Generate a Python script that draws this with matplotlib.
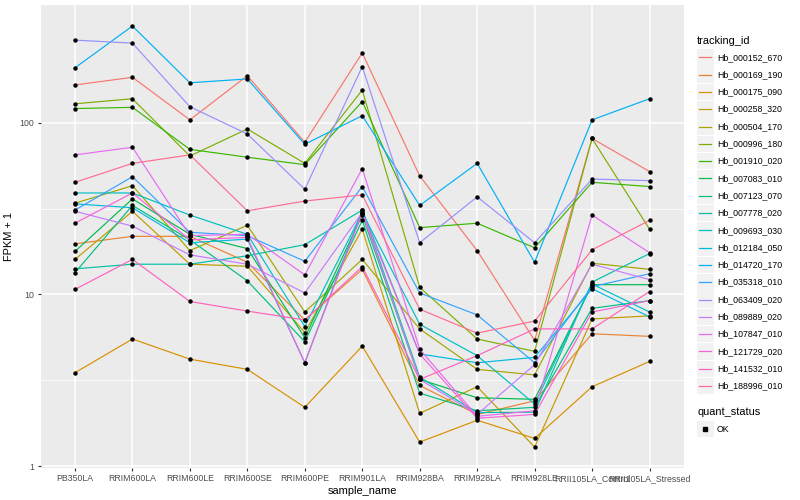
import matplotlib
matplotlib.use('Agg')
import matplotlib.pyplot as plt
from matplotlib.lines import Line2D
from matplotlib.patches import Rectangle
from matplotlib.ticker import FixedLocator, NullFormatter
import numpy as np

plt.rcParams['font.family'] = ['Liberation Sans', 'DejaVu Sans']

samples = ['PB350LA', 'RRIM600LA', 'RRIM600LE', 'RRIM600SE', 'RRIM600PE',
           'RRIM901LA', 'RRIM928BA', 'RRIM928LA', 'RRIM928LE',
           'RRII105LA_Control', 'RRII105LA_Stressed']

tracking_ids = ['Hb_000152_670', 'Hb_000169_190', 'Hb_000175_090', 'Hb_000258_320',
                'Hb_000504_170', 'Hb_000996_180', 'Hb_001910_020', 'Hb_007083_010',
                'Hb_007123_070', 'Hb_007778_020', 'Hb_009693_030', 'Hb_012184_050',
                'Hb_014720_170', 'Hb_035318_010', 'Hb_063409_020', 'Hb_089889_020',
                'Hb_107847_010', 'Hb_121729_020', 'Hb_141532_010', 'Hb_188996_010']

# FPKM + 1 per sample
hb_000152_670 = [166, 184, 104, 188, 77, 255, 49, 18, 5.4, 81, 52]
hb_000169_190 = [19.7, 21.8, 21.8, 15.4, 7.1, 14, 2.95, 2.0, 2.4, 5.9, 5.7]
hb_000175_090 = [3.5, 5.5, 4.2, 3.66, 2.2, 5.0, 1.38, 1.85, 1.45, 2.9, 4.07]
hb_000258_320 = [16, 30.5, 15, 14.6, 6.0, 24, 2.03, 2.9, 1.29, 7.2, 7.5]
hb_000504_170 = [34, 43, 18, 25.3, 7.9, 16, 6.3, 3.66, 3.4, 15.2, 14]
hb_000996_180 = [129, 138, 64, 92, 58, 155, 11, 5.5, 4.66, 81, 24]
hb_001910_020 = [121, 123, 70, 63, 57, 133, 24.5, 26, 18.7, 45, 42.5]
hb_007083_010 = [17.8, 36, 22.4, 18.5, 5.6, 29, 3.2, 2.5, 2.45, 11.4, 11.4]
hb_007123_070 = [13.4, 33, 20.8, 12, 5.3, 27, 2.66, 2.1, 2.2, 8.3, 9.2]
hb_007778_020 = [14.1, 15, 15, 16.8, 19.5, 31, 3.3, 2.05, 2.06, 11.8, 17.3]
hb_009693_030 = [39, 39, 29, 22.4, 6.5, 30, 6.7, 4.4, 2.3, 11.5, 7.9]
hb_012184_050 = [33.7, 32, 20, 21, 4.0, 31, 4.5, 4.0, 4.3, 10.8, 7.4]
hb_014720_170 = [209, 366, 171, 180, 75, 110, 33, 58, 15.4, 104, 138]
hb_035318_010 = [31, 48.5, 23, 22, 15.6, 42.5, 10.2, 7.6, 4.0, 11.1, 13.2]
hb_063409_020 = [303, 291, 124, 86, 41, 212, 20, 37, 20, 47, 46]
hb_089889_020 = [30.5, 25, 17, 15, 10.2, 30, 3.2, 2.0, 3.9, 15, 12.2]
hb_107847_010 = [65, 72, 22, 22.4, 13, 54, 4.8, 1.95, 2.1, 29, 17.5]
hb_121729_020 = [26, 39, 20.8, 21.5, 4.0, 30, 4.5, 1.9, 2.0, 7.9, 9.2]
hb_141532_010 = [10.7, 16, 9.1, 8, 7.1, 14.5, 3.2, 4.4, 6.3, 6.3, 10.4]
hb_188996_010 = [45, 58, 65, 30.7, 35, 38, 8.2, 5.95, 7.0, 18.2, 27]

series = [hb_000152_670, hb_000169_190, hb_000175_090, hb_000258_320,
          hb_000504_170, hb_000996_180, hb_001910_020, hb_007083_010,
          hb_007123_070, hb_007778_020, hb_009693_030, hb_012184_050,
          hb_014720_170, hb_035318_010, hb_063409_020, hb_089889_020,
          hb_107847_010, hb_121729_020, hb_141532_010, hb_188996_010]

colors = ['#F8766D', '#EA8331', '#D89000', '#C09B00', '#A3A500', '#7CAE00',
          '#39B600', '#00BB4E', '#00BF7D', '#00C1A3', '#00BFC4', '#00BAE0',
          '#00B0F6', '#35A2FF', '#9590FF', '#C77CFF', '#E76BF3', '#FA62DB',
          '#FF62BC', '#FF6C91']

W, H = 800, 500
fig = plt.figure(figsize=(8, 5), dpi=100)
left, right, top, bottom = 40.5, 684, 5, 468
ax = fig.add_axes([left / W, 1 - bottom / H, (right - left) / W, (bottom - top) / H])
ax.set_facecolor('#EBEBEB')

x = np.arange(len(samples))
for vals, c in zip(series, colors):
    ax.plot(x, vals, color=c, lw=0.85, zorder=2)
for vals in series:
    ax.plot(x, vals, ls='none', marker='o', ms=2.2, color='black', zorder=3)

ax.set_yscale('log')
ax.set_ylim(10 ** -0.011, 10 ** 2.686)
ax.set_xlim(-0.6, len(samples) - 0.4)
ax.set_yticks([1, 10, 100])
ax.set_yticklabels(['1', '10', '100'])
ax.yaxis.set_minor_locator(FixedLocator([10 ** 0.5, 10 ** 1.5]))
ax.yaxis.set_minor_formatter(NullFormatter())
ax.set_xticks(x)
ax.set_xticklabels(samples)

ax.grid(which='major', color='white', lw=1.1)
ax.grid(which='minor', axis='y', color='white', lw=0.55)
ax.set_axisbelow(True)
for s in ax.spines.values():
    s.set_visible(False)
ax.tick_params(which='major', length=2.5, width=0.8, color='#333333',
               labelsize=6.3, labelcolor='#4D4D4D', pad=2)
ax.tick_params(which='minor', length=0)
ax.set_xlabel('sample_name', fontsize=7.9, labelpad=2)
ax.set_ylabel('FPKM + 1', fontsize=7.9, labelpad=4)

# legends drawn by hand, ggplot style
def fy(py):
    return 1 - py / H

fig.text(697 / W, fy(40.5), 'tracking_id', fontsize=7.9, va='center', ha='left')
for i, (name, c) in enumerate(zip(tracking_ids, colors)):
    yc = 57.3 + 17.3 * i
    fig.add_artist(Rectangle((697 / W, fy(yc + 8.3)), 16.5 / W, 16.5 / H,
                             transform=fig.transFigure, facecolor='#F2F2F2',
                             edgecolor='none'))
    fig.add_artist(Line2D([699 / W, 711 / W], [fy(yc), fy(yc)], color=c, lw=0.9,
                          transform=fig.transFigure))
    fig.text(717 / W, fy(yc), name, fontsize=6.3, va='center', ha='left')

fig.text(697 / W, fy(412), 'quant_status', fontsize=7.9, va='center', ha='left')
fig.add_artist(Rectangle((697 / W, fy(429 + 8.3)), 16.5 / W, 16.5 / H,
                         transform=fig.transFigure, facecolor='#F2F2F2',
                         edgecolor='none'))
fig.add_artist(Line2D([705 / W], [fy(429)], ls='none', marker='s', ms=2.3,
                      color='black', transform=fig.transFigure))
fig.text(717 / W, fy(429), 'OK', fontsize=6.3, va='center', ha='left')

fig.savefig('out.png', dpi=100)
